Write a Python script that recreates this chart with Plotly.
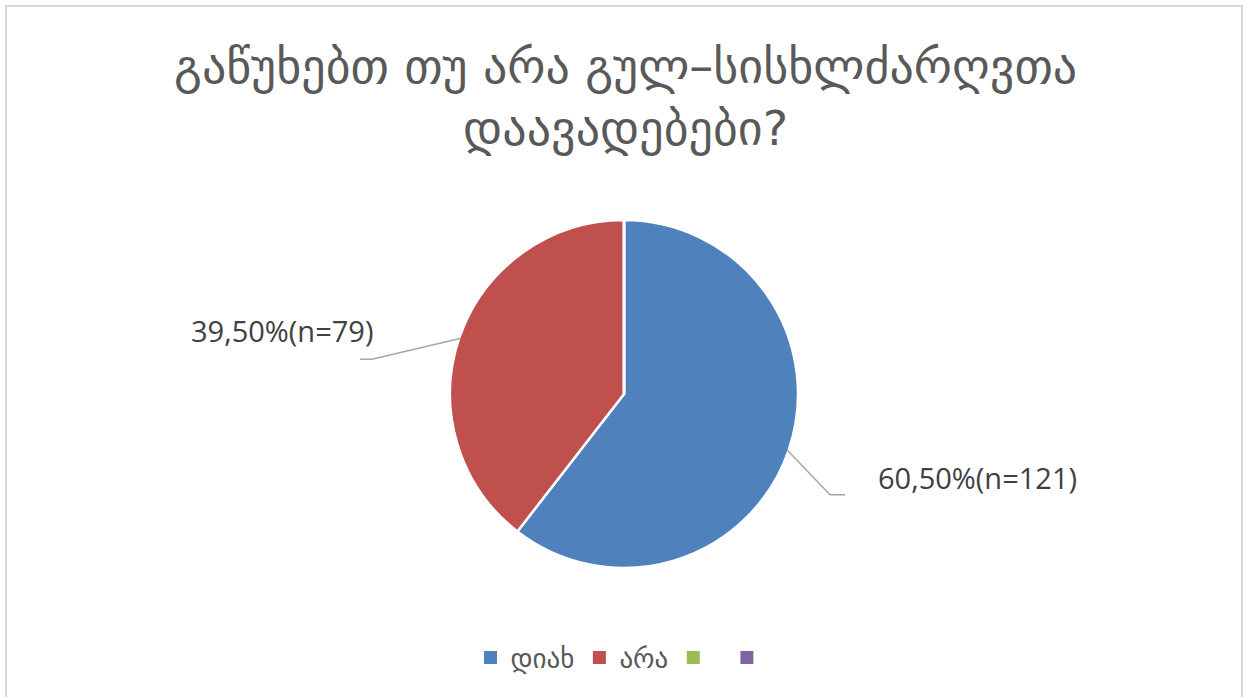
import math
import plotly.graph_objects as go

W, H = 1246, 697

labels = ["დიახ", "არა", " ", "  "]
values = [121, 79, 0, 0]
pct_text = ["60,50%(n=121)", "39,50%(n=79)"]
colors = ["#4F81BD", "#C0504D", "#9BBB59", "#8064A2"]
title_text = "გაწუხებთ თუ არა გულ–სისხლძარღვთა<br>დაავადებები?"

# layout style (pixels)
cx, cy, R = 624, 394, 174
def px(x):
    return x / W
def py(y):
    return 1 - y / H

fig = go.Figure()
fig.add_trace(go.Pie(
    labels=labels, values=values, sort=False, direction="clockwise", rotation=0,
    marker=dict(colors=colors, line=dict(color="white", width=2.5)),
    textinfo="none", hoverinfo="label+percent",
    domain=dict(x=[px(cx - R), px(cx + R)], y=[py(cy + R), py(cy - R)]),
    showlegend=False,
))
# legend entries (square swatches)
for lab, col in zip(labels, colors):
    fig.add_trace(go.Scatter(x=[None], y=[None], mode="markers", name=lab,
                             marker=dict(symbol="square", size=13, color=col),
                             showlegend=True, hoverinfo="skip"))

# leader lines and labels computed from data angles
total = sum(values)
label_style = [
    dict(elbow=(43, 45), tail=15, tx=31, ty=-17, anchor="left"),
    dict(elbow=(-89, 21), tail=-12, tx=15, ty=-29, anchor="right"),
]
start = 0.0
shapes = []
annotations = []
for i in range(2):
    frac = values[i] / total
    mid = (start + frac / 2) * 2 * math.pi
    start += frac
    ex = cx + R * math.sin(mid) * 0.99
    ey = cy - R * math.cos(mid) * 0.99
    st = label_style[i]
    bx, by = ex + st["elbow"][0], ey + st["elbow"][1]
    tx_end = bx + st["tail"]
    shapes.append(dict(type="path", xref="paper", yref="paper",
                       path=f"M{px(ex)},{py(ey)} L{px(bx)},{py(by)} L{px(tx_end)},{py(by)}",
                       line=dict(color="#A6A6A6", width=1.5)))
    ax = tx_end + st["tx"]
    annotations.append(dict(x=px(ax), y=py(by + st["ty"]), xref="paper", yref="paper",
                            text=pct_text[i], showarrow=False, xanchor=st["anchor"],
                            yanchor="middle",
                            font=dict(family="Open Sans", size=29, color="#404040")))

annotations.append(dict(x=px(625), y=py(97), xref="paper", yref="paper", text=title_text,
                        showarrow=False, xanchor="center", yanchor="middle",
                        font=dict(family="DejaVu Sans", size=48, color="#595959")))

shapes.append(dict(type="rect", xref="paper", yref="paper", x0=px(6), x1=px(1242),
                   y0=py(702), y1=py(6), line=dict(color="#D9D9D9", width=2)))

fig.update_layout(
    width=W, height=H, margin=dict(l=0, r=0, t=0, b=0),
    paper_bgcolor="white", plot_bgcolor="white",
    shapes=shapes, annotations=annotations,
    xaxis=dict(visible=False), yaxis=dict(visible=False),
    legend=dict(orientation="h", x=px(630), xanchor="center", y=py(658), yanchor="middle",
                itemsizing="trace",
                font=dict(family="DejaVu Sans", size=27, color="#595959")),
)
fig.write_html("out.html")
